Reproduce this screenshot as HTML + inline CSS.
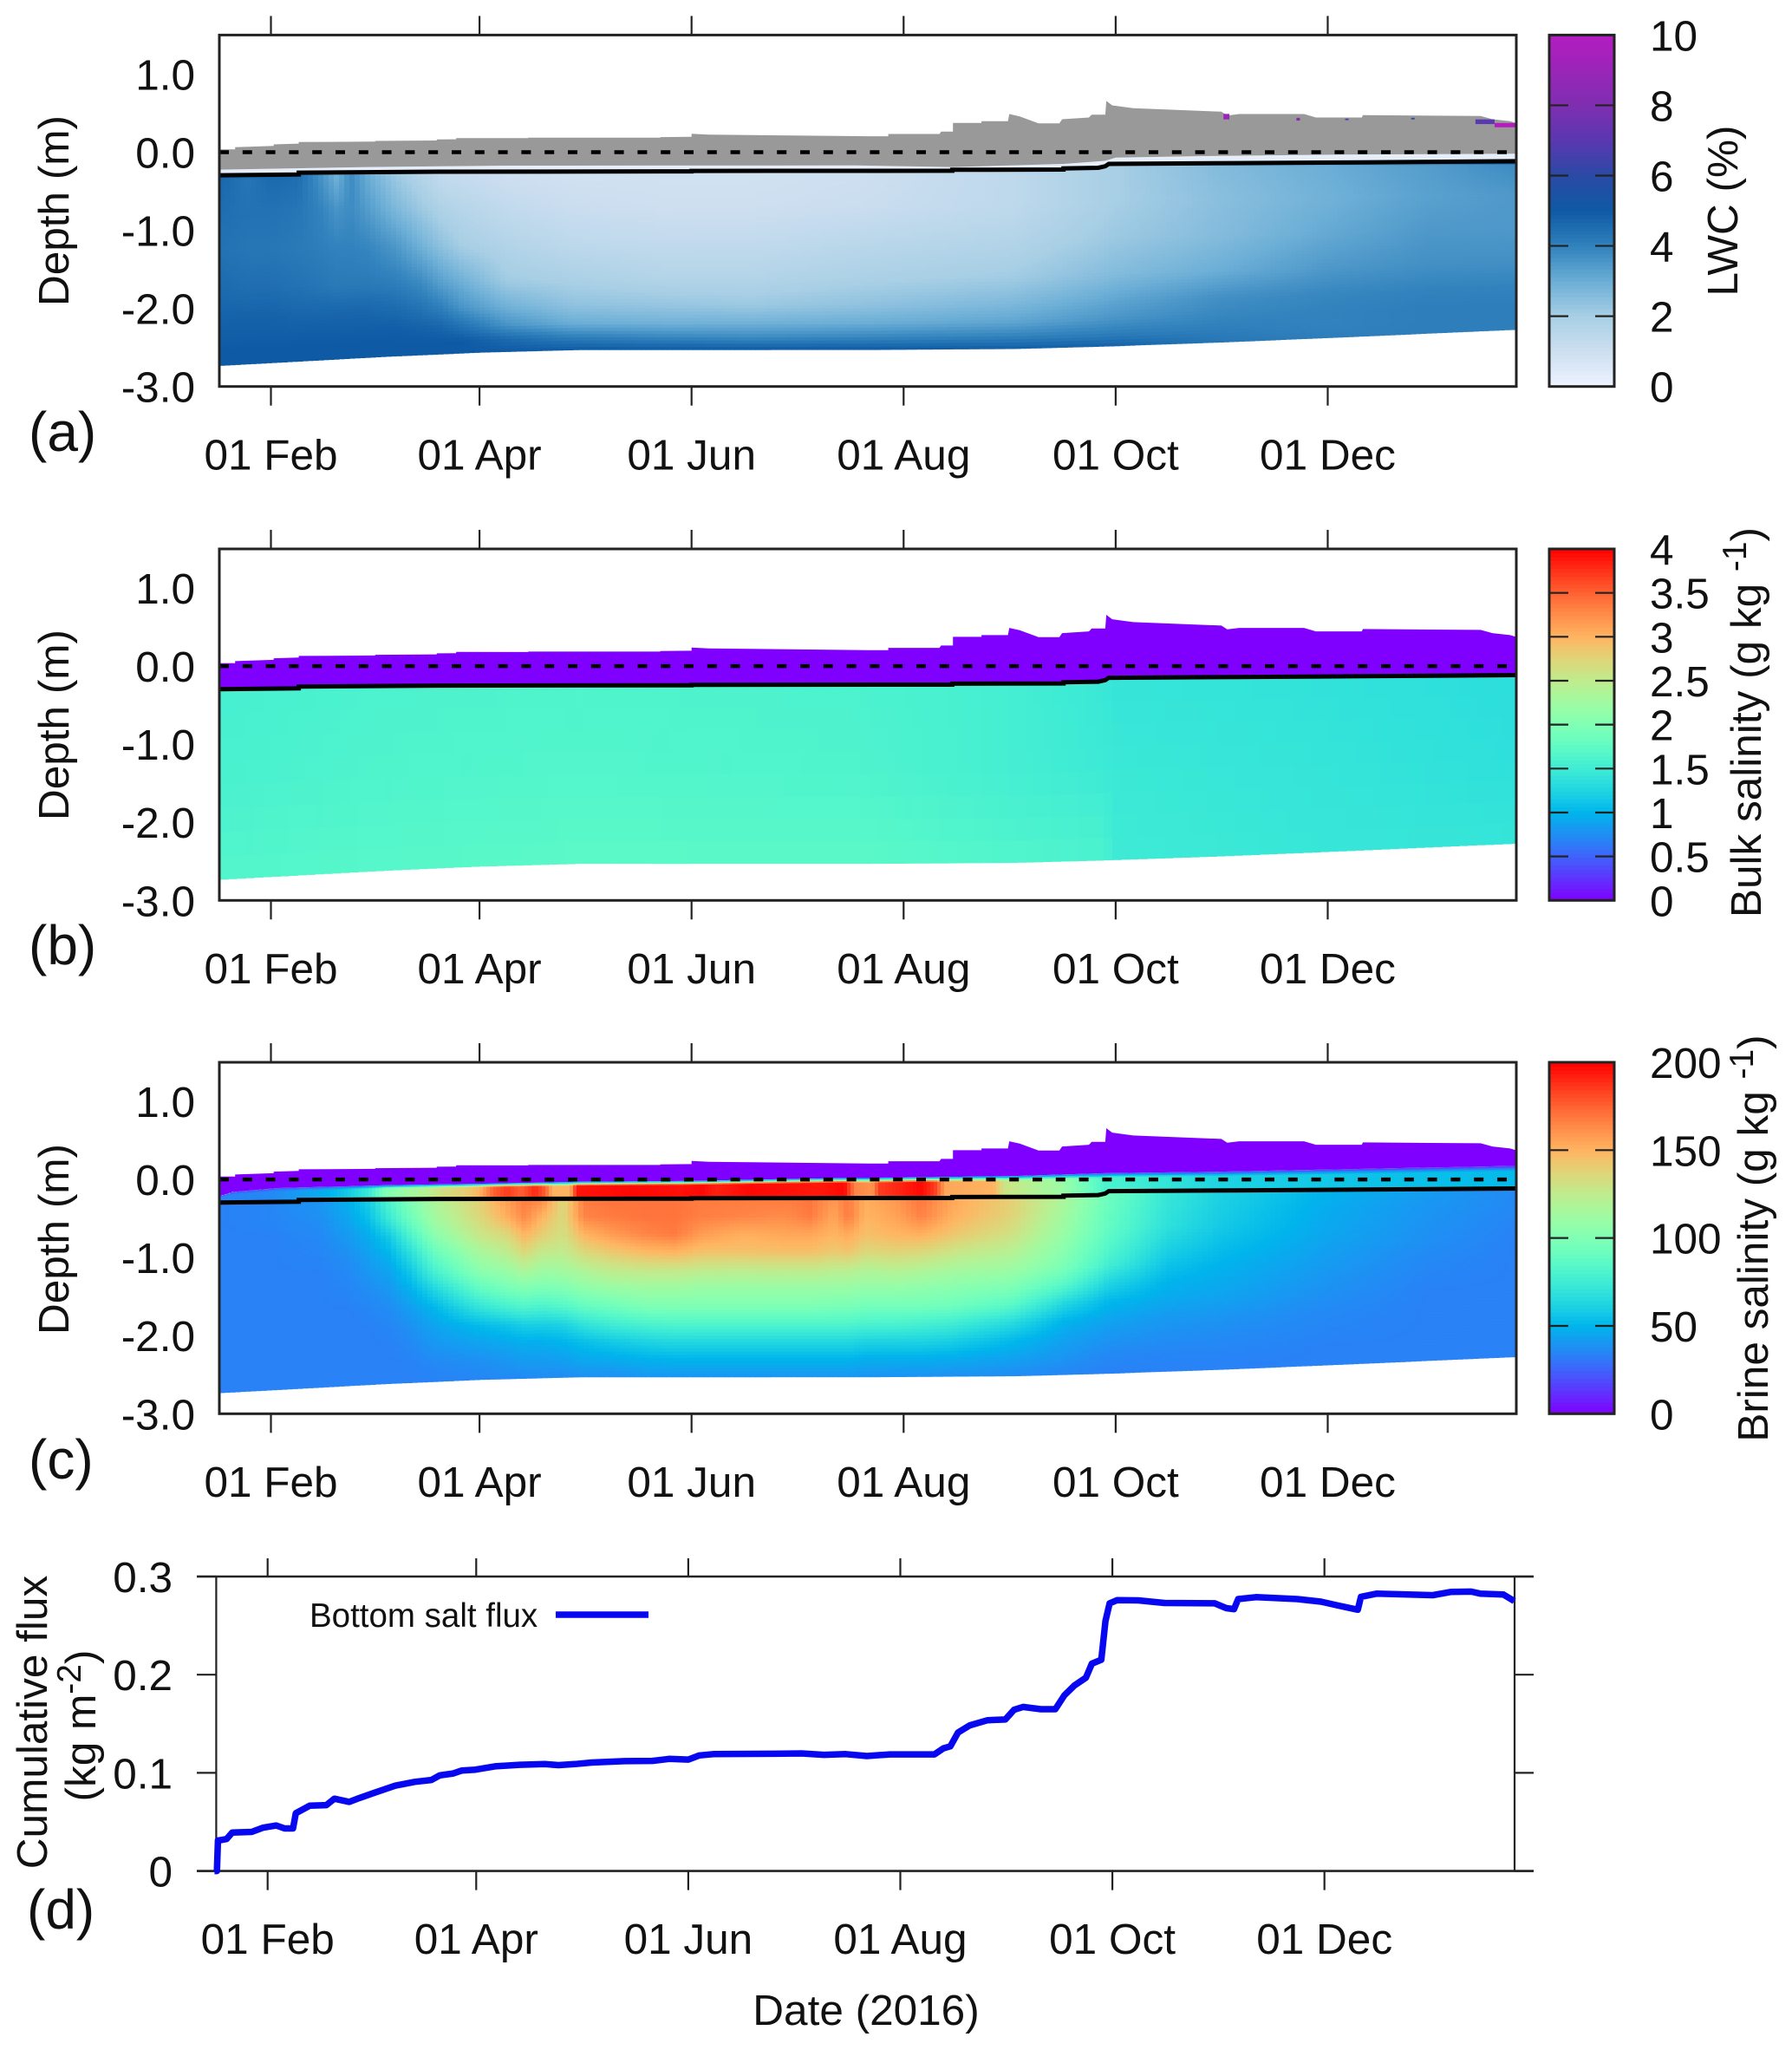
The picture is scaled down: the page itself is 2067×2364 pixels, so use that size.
<!DOCTYPE html>
<html lang="en">
<head>
<meta charset="utf-8">
<title>Sea ice LWC, salinity and cumulative salt flux, 2016</title>
<style>
html,body{margin:0;padding:0;background:#fff;}
svg{display:block;}
text{font-family:"Liberation Sans",sans-serif;fill:#111;font-size:49.5px;}
</style>
</head>
<body>
<svg id="fig" xmlns="http://www.w3.org/2000/svg" width="2067" height="2364" viewBox="0 0 2067 2364">
<rect x="0" y="0" width="2067" height="2364" fill="#fff"/>
<g id="panelA"></g>
<g id="panelB"></g>
<g id="panelC"></g>
<g id="panelD"></g>

<text x="33" y="520" style="font-size:64px">(a)</text>
<text x="33" y="1112" style="font-size:64px">(b)</text>
<text x="33" y="1705" style="font-size:64px">(c)</text>
<text x="31" y="2224" style="font-size:64px">(d)</text>

<text transform="translate(79,243) rotate(-90)" text-anchor="middle">Depth (m)</text>
<text transform="translate(79,836) rotate(-90)" text-anchor="middle">Depth (m)</text>
<text transform="translate(79,1429) rotate(-90)" text-anchor="middle">Depth (m)</text>

<text transform="translate(2004,243) rotate(-90)" text-anchor="middle">LWC (%)</text>
<text transform="translate(2031,833) rotate(-90)" text-anchor="middle">Bulk salinity (g kg <tspan dy="-17" style="font-size:39px">-1</tspan><tspan dy="17">)</tspan></text>
<text transform="translate(2039,1428) rotate(-90)" text-anchor="middle">Brine salinity (g kg <tspan dy="-17" style="font-size:39px">-1</tspan><tspan dy="17">)</tspan></text>

<text transform="translate(54,1986) rotate(-90)" text-anchor="middle">Cumulative flux</text>
<text transform="translate(110,1990) rotate(-90)" text-anchor="middle">(kg m<tspan dy="-17" style="font-size:39px">-2</tspan><tspan dy="17">)</tspan></text>

<text x="999" y="2335" text-anchor="middle">Date (2016)</text>
<text x="357" y="1876" style="font-size:38.5px">Bottom salt flux</text>
<line x1="641" y1="1862" x2="748" y2="1862" stroke="#0808f0" stroke-width="7.5"/>
</svg>

<script>
// ---- shared axes data ----
var tickDays = [32, 92, 153, 214, 275, 336];
var tickLabels = ['01 Feb', '01 Apr', '01 Jun', '01 Aug', '01 Oct', '01 Dec'];
var depthTicks = [1, 0, -1, -2, -3];
var depthLabels = ['1.0', '0.0', '-1.0', '-2.0', '-3.0'];

// ---- surfaces (day of 2016, metres) ----
var snowDays = [17.2,21.7,21.7,32.8,32.8,40,40,62,62,79.7,79.7,85.3,85.3,106,106,144,144,153,153,158,203.7,209.6,209.6,224.3,224.8,228.2,228.2,236.4,236.4,244,244.4,247.4,252.8,258.8,259.6,267.3,268.1,272,272.3,274,280,305.4,307.1,310.5,329.2,332.6,345.8,346.1,380,383.4,388.5,390.4];
var snowTops = [0.037,0.037,0.063,0.08,0.10,0.11,0.13,0.135,0.144,0.15,0.163,0.165,0.181,0.18,0.185,0.185,0.193,0.197,0.237,0.225,0.204,0.204,0.233,0.233,0.263,0.263,0.374,0.374,0.396,0.396,0.489,0.459,0.37,0.37,0.422,0.444,0.481,0.481,0.656,0.6,0.563,0.519,0.47,0.489,0.489,0.444,0.444,0.474,0.463,0.422,0.396,0.37];

var iceDays = [17.2,40,40,80,153,153,228,228,260,260,270,272,273,310,346,390.4];
var iceTops = [-0.295,-0.285,-0.262,-0.25,-0.245,-0.24,-0.238,-0.225,-0.222,-0.208,-0.2,-0.18,-0.15,-0.14,-0.13,-0.115];

var bottomDays = [17.2,65.4,92.4,121,203,246,271.5,305.4,339.4,390.4];
var bottomDepths = [-2.737,-2.62,-2.567,-2.533,-2.533,-2.52,-2.49,-2.437,-2.374,-2.274];

var grayDays = [17.2,60,100,200,228,260,272,275,300,340,390.4];
var grayBottoms = [-0.224,-0.19,-0.172,-0.17,-0.19,-0.15,-0.11,-0.07,-0.05,-0.03,-0.02];

var brineDays = [17.2,21,34,65,92,121,153,193,204,246,272,305,390.4];
var brineTops = [-0.215,-0.16,-0.11,-0.074,-0.055,-0.03,-0.019,0.015,0.018,0.044,0.08,0.1,0.174];

// ---- panel (a) LWC, percent: one row per day, fractions run ice top -> ice bottom ----
var lwcDays = [17,25,32,40,46,51,55,60,68,75,81,87,100,119,145,170,202,245,275,305,336,365,390.4];
var lwcFractions = [0,0.02,0.2,0.4,0.6,0.75,0.85,0.93,1];
var lwcGrid = [
[4.7,4.7,4.5,4.4,4.6,4.8,4.9,5.0,5.0],
[4.6,4.3,4.4,4.3,4.5,4.8,4.9,5.0,5.0],
[4.7,4.6,4.4,4.3,4.5,4.8,4.9,5.0,5.0],
[4.5,4.5,4.3,4.2,4.4,4.7,4.9,5.0,5.0],
[3.8,3.7,4.0,4.1,4.3,4.7,4.9,5.0,5.0],
[2.9,2.9,3.6,4.0,4.2,4.7,4.9,5.0,5.0],
[3.8,3.8,3.8,4.0,4.2,4.7,4.9,5.0,5.0],
[3.0,3.0,3.4,3.9,4.2,4.7,4.9,5.0,5.0],
[2.1,2.2,2.7,3.5,4.1,4.6,4.9,5.0,5.0],
[1.6,1.7,2.2,2.9,3.8,4.4,4.8,5.0,5.0],
[1.3,1.3,1.8,2.4,3.3,4.1,4.7,5.0,5.0],
[1.2,1.2,1.6,2.0,2.9,3.6,4.4,5.0,5.0],
[1.0,1.0,1.3,1.7,2.1,2.9,3.6,4.6,5.0],
[0.9,0.9,1.1,1.4,1.9,2.4,3.0,4.1,5.0],
[0.9,0.9,1.0,1.3,1.7,2.3,2.9,3.9,5.0],
[0.9,0.9,1.0,1.3,1.7,2.2,2.9,3.8,5.0],
[1.0,1.0,1.1,1.5,1.9,2.4,3.0,3.9,5.0],
[1.5,1.4,1.4,1.7,2.1,2.7,3.2,4.0,4.9],
[2.0,2.0,2.0,2.2,2.6,3.2,3.6,4.1,4.8],
[2.7,2.6,2.5,2.6,3.0,3.7,3.9,4.1,4.3],
[3.4,3.0,2.9,3.1,3.5,3.9,4.0,4.0,4.1],
[4.2,3.4,3.3,3.5,3.7,4.0,4.1,4.1,4.1],
[6.0,3.8,3.5,3.5,3.7,4.0,4.1,4.1,4.1]
];
var lwcColorbarTicks = [0, 2, 4, 6, 8, 10];
var lwcStopValues = [0,1,2,3,4,5,6,7,8,10];
var lwcStopColors = ['#eff3ff','#cddff0','#a8cfe5','#6baed6','#3182bd','#0e5aa5','#2a4aa5','#5a38b0','#7e2eb0','#b41cc0'];

// wet snow patches in panel (a): day start, day end, top, bottom, LWC
var patchStart = [384, 378.5, 306, 327, 341, 360];
var patchEnd = [390.4, 384, 307.7, 328, 342, 361];
var patchTop = [0.374, 0.42, 0.49, 0.44, 0.43, 0.44];
var patchBottom = [0.319, 0.36, 0.42, 0.405, 0.41, 0.42];
var patchValue = [10, 7, 9, 8, 7, 6];

// ---- panel (b) bulk salinity, g/kg ----
var bulkDays = [17,60,120,200,240,272,274,330,390.4];
var bulkFractions = [0,0.5,1];
var bulkGrid = [
[1.55,1.58,1.65],
[1.60,1.62,1.68],
[1.62,1.65,1.72],
[1.60,1.62,1.72],
[1.55,1.55,1.65],
[1.45,1.48,1.60],
[1.42,1.46,1.49],
[1.39,1.42,1.44],
[1.34,1.36,1.42]
];
var bulkColorbarTicks = [0,0.5,1,1.5,2,2.5,3,3.5,4];
var bulkColorbarLabels = ['0','0.5','1','1.5','2','2.5','3','3.5','4'];

// ---- panel (c) brine salinity, g/kg ----
var brineGridDays = [17,32,46,54,60,66,72,79,92,100,105,110,116,122,130,140,148,156,168,180,187,194,198,203,212,219,228,245,260,272,290,305,336,365,390.4];
var brineFractions = [0,0.1,0.2,0.3,0.4,0.5,0.6,0.7,0.8,0.9,1];
var brineGrid = [
[34,34,34,34,34,34,34,34,34,34,34],
[35,35,34,34,34,34,34,34,34,34,34],
[40,38,36,35,34,34,34,34,34,34,34],
[48,45,41,38,36,35,34,34,34,34,34],
[60,54,47,43,40,37,35,34,34,34,34],
[82,74,58,50,44,40,37,35,34,34,34],
[100,94,80,66,56,48,42,38,36,34,34],
[118,114,104,90,78,62,50,44,40,36,34],
[140,136,128,115,104,88,70,52,44,38,35],
[158,152,136,124,110,96,78,56,46,40,36],
[168,164,150,135,118,100,82,60,48,42,36],
[165,150,140,126,112,98,80,60,48,42,37],
[135,135,132,125,114,100,84,62,50,43,37],
[168,165,150,135,120,106,90,70,54,46,38],
[170,168,158,142,126,110,94,76,58,47,38],
[170,170,165,148,128,112,100,80,62,49,40],
[170,170,168,150,128,112,100,82,64,50,40],
[168,167,158,145,126,110,100,82,64,50,40],
[168,165,152,145,125,110,100,82,64,50,40],
[168,163,155,146,126,110,100,82,64,50,40],
[170,168,155,146,126,110,100,82,64,50,40],
[160,155,150,142,124,110,98,82,64,50,40],
[168,168,154,144,124,110,98,82,64,50,40],
[152,150,146,136,120,108,96,80,62,48,39],
[160,156,150,138,122,108,96,80,62,48,39],
[170,166,152,136,120,106,96,78,62,48,39],
[155,152,144,130,116,104,94,76,60,47,38],
[140,138,132,122,112,100,86,66,52,44,37],
[118,114,110,104,98,84,64,50,44,40,35],
[95,92,90,85,78,64,52,45,40,36,34],
[72,70,68,62,56,50,46,41,38,35,34],
[62,60,58,54,50,47,44,40,37,35,34],
[50,47,46,44,42,40,38,36,35,34,34],
[42,40,39,38,36,35,34,34,34,34,34],
[36,36,35,34,34,34,34,34,34,34,34]
];
// freeboard band above the ice line in panel (c)
var freeboardDays = [17,32,46,53,60,65,70,76,81,88,92,96,100,104,108,111,113,118,120,135,150,156,160,170,180,190,197,200,205,207,212,219,223,226,240,243,260,272,305,350,390.4];
var freeboardValues = [34,36,46,56,72,100,110,120,132,140,150,175,185,175,190,175,150,150,195,198,196,198,192,198,196,194,198,165,160,185,190,198,185,155,150,130,110,80,62,55,52];
var freeboardTopValue = [20,20,22,22,24,24,26,26,28,28,30,30,30,32,32,32,32,32,32,32,32,32,32,32,32,32,32,32,32,32,32,32,30,30,28,26,24,22,16,12,10];
var brineColorbarTicks = [0,50,100,150,200];

// ---- panel (d) cumulative flux ----
var fluxDays = [16.7,17.4,17.7,20.2,21.8,27.4,30.6,34.5,36.9,39.3,40.1,44.1,48.9,51.2,55.5,58.4,63.2,68.7,74.3,79.1,81.5,85.4,87.8,91.8,97.4,104.5,111.7,115.7,120.4,125.2,134.7,142.7,147.5,153,156.2,160.2,177.7,185.6,192,198.3,204.4,211.1,223.8,226.4,228.4,230.6,234,239.1,244.2,246.7,249.3,254.4,258.6,261.2,264,267.4,269.1,271.8,273,274.2,276.4,282.4,290,304.4,307.8,310,311.2,316.3,328.2,335,340,345.6,346.5,351.1,367.2,372.3,378.2,380.8,387.5,390.6];
var fluxValues = [0,0,0.031,0.0326,0.0391,0.0398,0.0441,0.0464,0.0434,0.0434,0.0589,0.0665,0.0671,0.0737,0.0704,0.0744,0.0803,0.0869,0.0908,0.0928,0.0974,0.0994,0.1023,0.1033,0.1066,0.1082,0.1089,0.1079,0.1089,0.1105,0.1119,0.1122,0.1142,0.1135,0.1178,0.1191,0.1194,0.1198,0.1184,0.1191,0.1171,0.1188,0.1188,0.125,0.127,0.1411,0.1484,0.1536,0.1543,0.1642,0.1671,0.1648,0.1648,0.179,0.1888,0.197,0.2112,0.2152,0.2546,0.2727,0.276,0.2757,0.2731,0.2727,0.2678,0.2668,0.277,0.279,0.277,0.2744,0.2704,0.2662,0.2793,0.2826,0.281,0.2843,0.2846,0.2826,0.2816,0.275];
var fluxTicks = [0, 0.1, 0.2, 0.3];
var fluxTickLabels = ['0', '0.1', '0.2', '0.3'];

// ---- scales ----
var NS = 'http://www.w3.org/2000/svg';
var PANEL_H = 405.3, LEFT = 253, RIGHT = 1749;
function xDay(d) { return 312.5 + (d - 32) * 4.0098; }
function dayX(x) { return 32 + (x - 312.5) / 4.0098; }
function xDayD(d) { return 308.7 + (d - 32) * 4.0098; }
function yDepth(z, top) { return top + (1.5 - z) * PANEL_H / 4.5; }
function yFlux(v) { return 2157.6 - v * (2157.6 - 1818) / 0.3; }

function interp(xs, ys, x) {
  if (x <= xs[0]) return ys[0];
  for (var i = 1; i < xs.length; i++) {
    if (x <= xs[i]) {
      var dx = xs[i] - xs[i - 1];
      return dx === 0 ? ys[i] : ys[i - 1] + (ys[i] - ys[i - 1]) * (x - xs[i - 1]) / dx;
    }
  }
  return ys[ys.length - 1];
}
function gridValue(days, fracs, grid, d, f) {
  var lo = 0, hi = days.length - 1;
  for (var i = 0; i < days.length - 1; i++) { if (d >= days[i] && d <= days[i + 1]) { lo = i; hi = i + 1; break; } }
  if (d > days[days.length - 1]) { lo = hi = days.length - 1; }
  if (d < days[0]) { lo = hi = 0; }
  var a = interp(fracs, grid[lo], f), b = interp(fracs, grid[hi], f);
  return hi === lo ? a : a + (b - a) * (d - days[lo]) / (days[hi] - days[lo]);
}
function hex(c) { return [parseInt(c.substr(1,2),16), parseInt(c.substr(3,2),16), parseInt(c.substr(5,2),16)]; }
function blues(v) {
  var i = 0;
  while (i < lwcStopValues.length - 2 && v > lwcStopValues[i + 1]) i++;
  var t = Math.max(0, Math.min(1, (v - lwcStopValues[i]) / (lwcStopValues[i + 1] - lwcStopValues[i])));
  var a = hex(lwcStopColors[i]), b = hex(lwcStopColors[i + 1]);
  return 'rgb(' + Math.round(a[0] + (b[0] - a[0]) * t) + ',' + Math.round(a[1] + (b[1] - a[1]) * t) + ',' + Math.round(a[2] + (b[2] - a[2]) * t) + ')';
}
function rainbow(t) {
  t = Math.max(0, Math.min(1, t));
  var r = Math.abs(2 * t - 0.5), g = Math.sin(Math.PI * t), b = Math.cos(Math.PI * t / 2);
  return 'rgb(' + Math.round(Math.min(1, r) * 255) + ',' + Math.round(g * 255) + ',' + Math.round(b * 255) + ')';
}
function polyPath(d1, v1, d2, v2, top) {
  var p = '';
  for (var i = 0; i < d1.length; i++) p += (i ? 'L' : 'M') + xDay(d1[i]).toFixed(1) + ' ' + yDepth(v1[i], top).toFixed(1);
  for (var j = d2.length - 1; j >= 0; j--) p += 'L' + xDay(d2[j]).toFixed(1) + ' ' + yDepth(v2[j], top).toFixed(1);
  return p + 'Z';
}
function linePath(ds, vs, top) {
  var p = '';
  for (var i = 0; i < ds.length; i++) p += (i ? 'L' : 'M') + xDay(ds[i]).toFixed(1) + ' ' + yDepth(vs[i], top).toFixed(1);
  return p;
}
function attrs(el, o) { for (var k in o) el.setAttribute(k, o[k]); return el; }

function drawHeat(group, days, fracs, grid, colorOf, top, colW, rows) {
  var frag = document.createDocumentFragment();
  for (var x = LEFT; x < RIGHT; x += colW) {
    var w = Math.min(colW, RIGHT - x);
    var d = dayX(x + w / 2);
    var yT = yDepth(interp(iceDays, iceTops, d), top);
    var yB = yDepth(interp(bottomDays, bottomDepths, d), top);
    var h = (yB - yT) / rows;
    for (var j = 0; j < rows; j++) {
      var v = gridValue(days, fracs, grid, d, (j + 0.5) / rows);
      var cell = document.createElementNS(NS, 'rect');
      attrs(cell, {x: x, y: (yT + j * h).toFixed(1), width: w + 0.6, height: (j === rows - 1 ? h : h + 0.6).toFixed(1), fill: colorOf(v)});
      
      
      frag.appendChild(cell);
    }
  }
  group.appendChild(frag);
}

function drawFrame(group, top) {
  var border = document.createElementNS(NS, 'rect');
  attrs(border, {x: LEFT, y: top, width: RIGHT - LEFT, height: PANEL_H, fill: 'none', stroke: '#222', 'stroke-width': 3});
  
  
  group.appendChild(border);
  for (var i = 0; i < tickDays.length; i++) {
    var tx = xDay(tickDays[i]);
    var up = document.createElementNS(NS, 'line');
    attrs(up, {x1: tx, x2: tx, y1: top - 22, y2: top, stroke: '#222', 'stroke-width': 2.2});
    
    
    group.appendChild(up);
    var dn = document.createElementNS(NS, 'line');
    attrs(dn, {x1: tx, x2: tx, y1: top + PANEL_H, y2: top + PANEL_H + 22, stroke: '#222', 'stroke-width': 2.2});
    
    
    group.appendChild(dn);
    var lab = document.createElementNS(NS, 'text');
    attrs(lab, {x: tx, y: top + 501, 'text-anchor': 'middle'});
    lab.textContent = tickLabels[i];
    
    
    group.appendChild(lab);
  }
  for (var k = 0; k < depthTicks.length; k++) {
    var yl = document.createElementNS(NS, 'text');
    attrs(yl, {x: 225, y: yDepth(depthTicks[k], top) + 18, 'text-anchor': 'end'});
    yl.textContent = depthLabels[k];
    
    
    group.appendChild(yl);
  }
}

function drawSurfaceLines(group, top) {
  var zero = document.createElementNS(NS, 'line');
  attrs(zero, {x1: LEFT, x2: RIGHT, y1: yDepth(0, top), y2: yDepth(0, top), stroke: '#000', 'stroke-width': 4.5, 'stroke-dasharray': '11 15.8'});
  
  
  group.appendChild(zero);
  var ice = document.createElementNS(NS, 'path');
  attrs(ice, {d: linePath(iceDays, iceTops, top), fill: 'none', stroke: '#000', 'stroke-width': 5});
  
  
  group.appendChild(ice);
}

function drawColorbar(group, top, colorAt, ticks, maxV, labels) {
  var barX = 1787, barW = 75, steps = 90;
  for (var i = 0; i < steps; i++) {
    var seg = document.createElementNS(NS, 'rect');
    var h = PANEL_H / steps;
    attrs(seg, {x: barX, y: (top + PANEL_H - (i + 1) * h).toFixed(1), width: barW, height: (h + 0.6).toFixed(1), fill: colorAt((i + 0.5) / steps * maxV)});
    
    
    group.appendChild(seg);
  }
  var box = document.createElementNS(NS, 'rect');
  attrs(box, {x: barX, y: top, width: barW, height: PANEL_H, fill: 'none', stroke: '#222', 'stroke-width': 3});
  
  
  group.appendChild(box);
  for (var t = 0; t < ticks.length; t++) {
    var ty = top + PANEL_H - ticks[t] / maxV * PANEL_H;
    if (t > 0 && t < ticks.length - 1) {
      var a = document.createElementNS(NS, 'line');
      attrs(a, {x1: barX, x2: barX + 22, y1: ty, y2: ty, stroke: '#222', 'stroke-width': 2.2});
      
      
      group.appendChild(a);
      var b = document.createElementNS(NS, 'line');
      attrs(b, {x1: barX + barW - 22, x2: barX + barW, y1: ty, y2: ty, stroke: '#222', 'stroke-width': 2.2});
      
      
      group.appendChild(b);
    }
    var lab = document.createElementNS(NS, 'text');
    attrs(lab, {x: 1903, y: ty + 18});
    lab.textContent = labels ? labels[t] : String(ticks[t]);
    
    
    group.appendChild(lab);
  }
}

// ---- panel (a) ----
(function () {
  var g = document.getElementById('panelA'), top = 40.4;
  drawHeat(g, lwcDays, lwcFractions, lwcGrid, blues, top, 6, 56);
  var pale = document.createElementNS(NS, 'path');
  attrs(pale, {d: polyPath(grayDays, grayBottoms, iceDays, iceTops, top), fill: '#e6eefa'});
  
  
  g.appendChild(pale);
  var gray = document.createElementNS(NS, 'path');
  attrs(gray, {d: polyPath(snowDays, snowTops, grayDays, grayBottoms, top), fill: '#999999'});
  
  
  g.appendChild(gray);
  for (var i = 0; i < patchStart.length; i++) {
    var p = document.createElementNS(NS, 'rect');
    attrs(p, {x: xDay(patchStart[i]), y: yDepth(patchTop[i], top), width: xDay(patchEnd[i]) - xDay(patchStart[i]), height: yDepth(patchBottom[i], top) - yDepth(patchTop[i], top), fill: blues(patchValue[i])});
    
    
    g.appendChild(p);
  }
  drawSurfaceLines(g, top);
  drawFrame(g, top);
  drawColorbar(g, top, blues, lwcColorbarTicks, 10);
})();

// ---- panel (b) ----
(function () {
  var g = document.getElementById('panelB'), top = 633;
  function col(v) { return rainbow(v / 4); }
  drawHeat(g, bulkDays, bulkFractions, bulkGrid, col, top, 10, 8);
  var snow = document.createElementNS(NS, 'path');
  attrs(snow, {d: polyPath(snowDays, snowTops, iceDays, iceTops, top), fill: '#7f00ff'});
  
  
  g.appendChild(snow);
  drawSurfaceLines(g, top);
  drawFrame(g, top);
  drawColorbar(g, top, col, bulkColorbarTicks, 4, bulkColorbarLabels);
})();

// ---- panel (c) ----
(function () {
  var g = document.getElementById('panelC'), top = 1225;
  function col(v) { return rainbow(v / 200); }
  drawHeat(g, brineGridDays, brineFractions, brineGrid, col, top, 6, 56);
  var snow = document.createElementNS(NS, 'path');
  attrs(snow, {d: polyPath(snowDays, snowTops, brineDays, brineTops, top), fill: '#7f00ff'});
  
  
  g.appendChild(snow);
  var frag = document.createDocumentFragment();
  for (var x = LEFT; x < RIGHT; x += 4) {
    var d = dayX(x + 2);
    var yT = yDepth(interp(brineDays, brineTops, d), top);
    var yB = yDepth(interp(iceDays, iceTops, d), top);
    var full = interp(freeboardDays, freeboardValues, d);
    var low = interp(freeboardDays, freeboardTopValue, d);
    var head = (yB - yT) * 0.22;
    var n = 3;
    for (var j = 0; j < n; j++) {
      var c1 = document.createElementNS(NS, 'rect');
      var v = low + (full - low) * (j + 0.5) / n;
      attrs(c1, {x: x, y: (yT + j * head / n).toFixed(1), width: 4.6, height: (head / n + 0.5).toFixed(1), fill: col(v)});
      
      
      frag.appendChild(c1);
    }
    var c2 = document.createElementNS(NS, 'rect');
    attrs(c2, {x: x, y: (yT + head).toFixed(1), width: 4.6, height: Math.max(0, yB - yT - head + 0.5).toFixed(1), fill: col(full)});
    
    
    frag.appendChild(c2);
  }
  g.appendChild(frag);
  drawSurfaceLines(g, top);
  drawFrame(g, top);
  drawColorbar(g, top, col, brineColorbarTicks, 200);
})();

// ---- panel (d) ----
(function () {
  var g = document.getElementById('panelD');
  var L = 249.4, R = 1747, T = yFlux(0.3), B = yFlux(0);
  var hl = [T, B];
  for (var i = 0; i < hl.length; i++) {
    var h = document.createElementNS(NS, 'line');
    attrs(h, {x1: 227, x2: 1769, y1: hl[i], y2: hl[i], stroke: '#222', 'stroke-width': 2.6});
    
    
    g.appendChild(h);
  }
  var vl = [L, R];
  for (var v = 0; v < vl.length; v++) {
    var s = document.createElementNS(NS, 'line');
    attrs(s, {x1: vl[v], x2: vl[v], y1: T, y2: B, stroke: '#222', 'stroke-width': 2.2});
    
    
    g.appendChild(s);
  }
  for (var k = 0; k < fluxTicks.length; k++) {
    var ty = yFlux(fluxTicks[k]);
    var lt = document.createElementNS(NS, 'line');
    attrs(lt, {x1: 227, x2: L, y1: ty, y2: ty, stroke: '#222', 'stroke-width': 2.2});
    
    
    g.appendChild(lt);
    var rt = document.createElementNS(NS, 'line');
    attrs(rt, {x1: R, x2: 1769, y1: ty, y2: ty, stroke: '#222', 'stroke-width': 2.2});
    
    
    g.appendChild(rt);
    var yl = document.createElementNS(NS, 'text');
    attrs(yl, {x: 199, y: ty + 18, 'text-anchor': 'end'});
    yl.textContent = fluxTickLabels[k];
    
    
    g.appendChild(yl);
  }
  for (var t = 0; t < tickDays.length; t++) {
    var tx = xDayD(tickDays[t]);
    var up = document.createElementNS(NS, 'line');
    attrs(up, {x1: tx, x2: tx, y1: T - 21, y2: T, stroke: '#222', 'stroke-width': 2.2});
    
    
    g.appendChild(up);
    var dn = document.createElementNS(NS, 'line');
    attrs(dn, {x1: tx, x2: tx, y1: B, y2: B + 22, stroke: '#222', 'stroke-width': 2.2});
    
    
    g.appendChild(dn);
    var lab = document.createElementNS(NS, 'text');
    attrs(lab, {x: tx, y: 2253, 'text-anchor': 'middle'});
    lab.textContent = tickLabels[t];
    
    
    g.appendChild(lab);
  }
  var p = '';
  for (var n = 0; n < fluxDays.length; n++) p += (n ? 'L' : 'M') + xDayD(fluxDays[n]).toFixed(1) + ' ' + yFlux(fluxValues[n]).toFixed(1);
  var line = document.createElementNS(NS, 'path');
  attrs(line, {d: p, fill: 'none', stroke: '#0808f0', 'stroke-width': 7.5, 'stroke-linejoin': 'round'});
  
  
  g.appendChild(line);
})();
</script>
</body>
</html>
